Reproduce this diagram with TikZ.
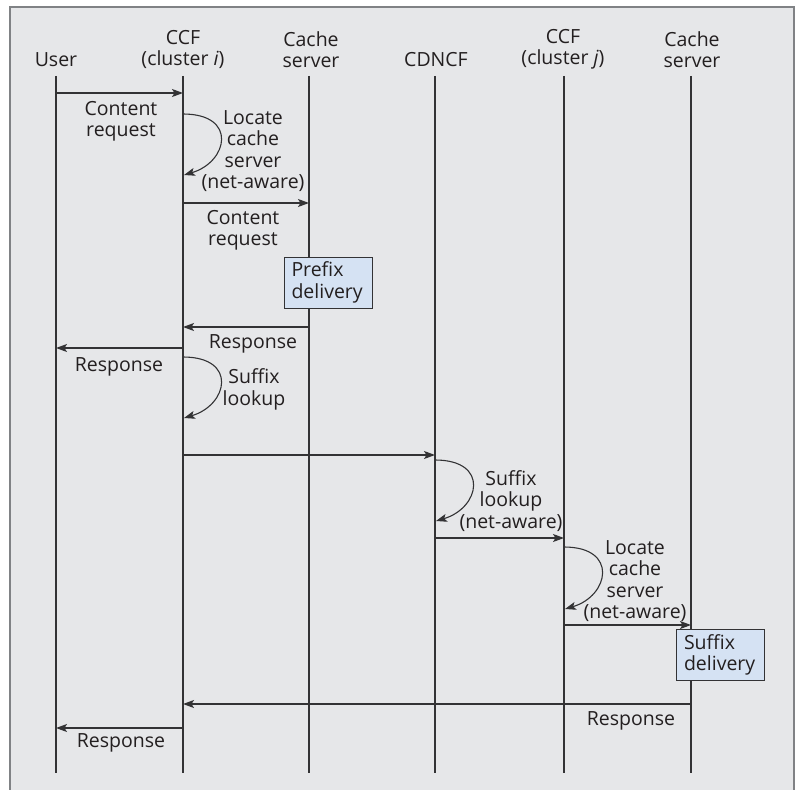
\documentclass[tikz,border=0pt]{standalone}
\usepackage{fontspec}
\setmainfont{Open Sans}
\usetikzlibrary{arrows.meta}
\definecolor{bgc}{HTML}{E6E7E9}
\definecolor{framec}{HTML}{808285}
\definecolor{linec}{HTML}{333335}
\definecolor{boxc}{HTML}{D5E2F3}
\definecolor{txtc}{HTML}{231F20}
\begin{document}
\begin{tikzpicture}[x=1pt,y=-1pt,
  every node/.style={font=\fontsize{19.5}{21.3}\selectfont, text=txtc, inner sep=0pt},
  lbl/.style={align=center, yshift=-2pt},
  life/.style={draw=linec, line width=1.3pt},
  msg/.style={draw=linec, line width=1.2pt, -{Stealth[length=11pt,width=8pt,inset=2.5pt]}},
  loopmsg/.style={draw=linec, line width=1.1pt, -{Stealth[length=11pt,width=8pt,inset=2.5pt]}},
  actbox/.style={draw=linec, fill=boxc, line width=1pt, align=left, minimum width=88pt, minimum height=51pt, text width=73pt, inner sep=0pt}
]
\useasboundingbox (0,0) rectangle (797,789);
\fill[bgc] (10,7) rectangle (794,800);
\draw[framec, line width=1.2pt] (10,800) -- (10,7) -- (794,7) -- (794,800);

% headers
\node[lbl] (huser) at (56,58) {User};
\node[lbl] (hccfi) at (183,47.5) {CCF\\(cluster \textit{i})};
\node[lbl] (hcsi) at (311,47.5) {Cache\\server};
\node[lbl] (hcdn) at (436,58) {CDNCF};
\node[lbl] (hccfj) at (563,47.5) {CCF\\(cluster \textit{j})};
\node[lbl] (hcsj) at (692,47.5) {Cache\\server};

% lifelines
\coordinate (uT) at (56,76);  \coordinate (uB) at (56,773);
\coordinate (aT) at (183,76); \coordinate (aB) at (183,773);
\coordinate (bT) at (309,76); \coordinate (bB) at (309,773);
\coordinate (cT) at (435,76); \coordinate (cB) at (435,773);
\coordinate (dT) at (564,76); \coordinate (dB) at (564,773);
\coordinate (eT) at (691,76); \coordinate (eB) at (691,773);
\foreach \p in {u,a,b,c,d,e} \draw[life] (\p T) -- (\p B);

% boxes (over lifelines)
\node[actbox] (prefix) at (328,282.5) {Prefix\\delivery};
\node[actbox] (suffix) at (720.5,655) {Suffix\\delivery};

% message 1
\coordinate (m1s) at (56,93); \coordinate (m1e) at (183,93);
\draw[msg] (m1s) -- (m1e);
\node[lbl] (l1) at (121,119) {Content\\request};

% loop 1
\coordinate (p1s) at (183,114); \coordinate (p1e) at (184,175);
\draw[loopmsg] (p1s) .. controls (238,114) and (228,162) .. (p1e);
\node[lbl] (lp1) at (253,149) {Locate\\cache\\server\\(net-aware)};

% message 3
\coordinate (m3s) at (183,203); \coordinate (m3e) at (309,203);
\draw[msg] (m3s) -- (m3e);
\node[lbl] (l3) at (243,228) {Content\\request};

% message 5
\coordinate (m5s) at (309,327); \coordinate (m5e) at (183,327);
\draw[msg] (m5s) -- (m5e);
\node[lbl] (l5) at (253,342) {Response};

% message 6
\coordinate (m6s) at (183,348); \coordinate (m6e) at (56,348);
\draw[msg] (m6s) -- (m6e);
\node[lbl] (l6) at (119,365) {Response};

% loop 2
\coordinate (p2s) at (183,357); \coordinate (p2e) at (184,418);
\draw[loopmsg] (p2s) .. controls (238,357) and (228,405) .. (p2e);
\node[lbl] (lp2) at (254,387.5) {Suffix\\lookup};

% message 8
\coordinate (m8s) at (183,455); \coordinate (m8e) at (435,455);
\draw[msg] (m8s) -- (m8e);

% loop 3
\coordinate (p3s) at (435,460); \coordinate (p3e) at (436,521);
\draw[loopmsg] (p3s) .. controls (490,460) and (480,508) .. (p3e);
\node[lbl] (lp3) at (511,499) {Suffix\\lookup\\(net-aware)};

% message 10
\coordinate (m10s) at (435,538); \coordinate (m10e) at (564,538);
\draw[msg] (m10s) -- (m10e);

% loop 4
\coordinate (p4s) at (564,547); \coordinate (p4e) at (565,609);
\draw[loopmsg] (p4s) .. controls (619,547) and (609,596) .. (p4e);
\node[lbl] (lp4) at (635,579) {Locate\\cache\\server\\(net-aware)};

% message 12
\coordinate (m12s) at (564,625); \coordinate (m12e) at (691,625);
\draw[msg] (m12s) -- (m12e);

% message 14
\coordinate (m14s) at (691,704); \coordinate (m14e) at (183,704);
\draw[msg] (m14s) -- (m14e);
\node[lbl] (l14) at (631,719) {Response};

% message 15
\coordinate (m15s) at (183,728); \coordinate (m15e) at (56,728);
\draw[msg] (m15s) -- (m15e);
\node[lbl] (l15) at (121,741) {Response};
\end{tikzpicture}
\end{document}
